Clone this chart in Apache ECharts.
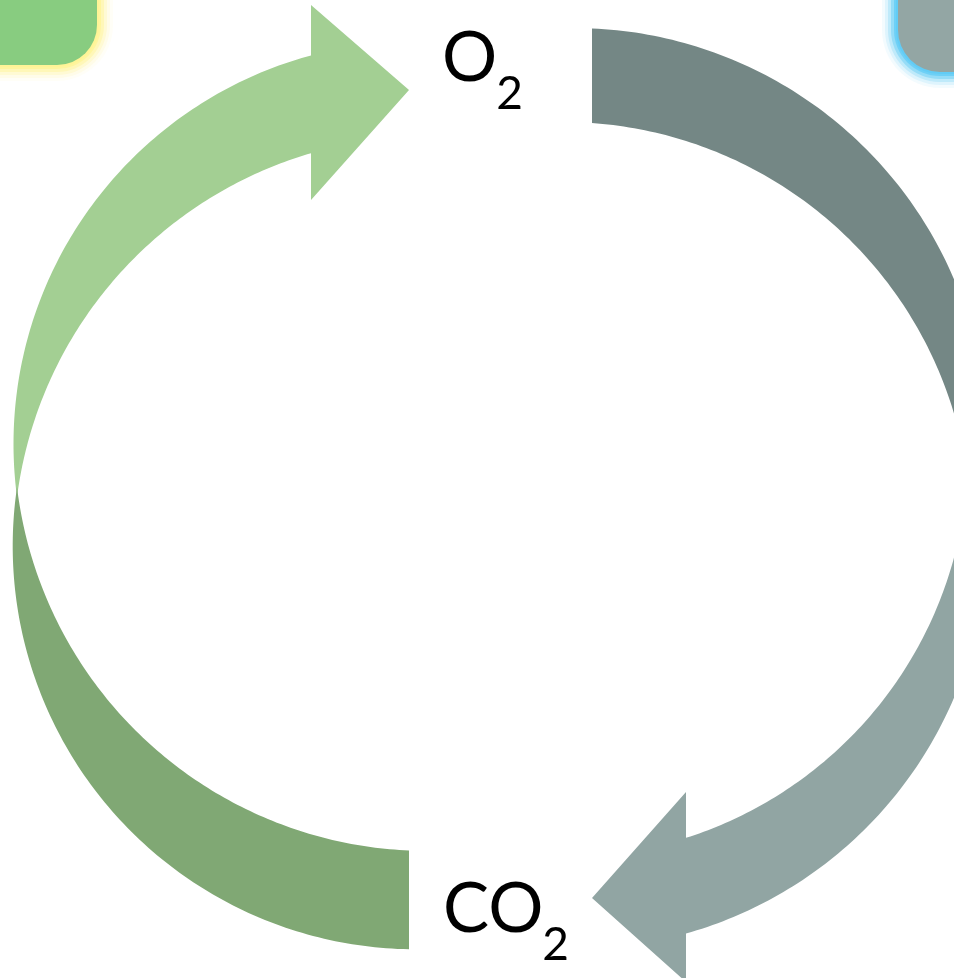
<!DOCTYPE html>
<html>
<head>
<meta charset="utf-8">
<script src="https://cdn.jsdelivr.net/npm/echarts@6/dist/echarts.min.js"></script>
<style>
html,body{margin:0;padding:0;background:#ffffff;}
#chart{width:954px;height:978px;}
</style>
</head>
<body>
<div id="chart"></div>
<script>
// ---- diagram data (pixel-unit value axes) ----
const pieceNames = ['O2 release (left, upper)', 'CO2 uptake (left, lower)', 'O2 uptake (right, upper)', 'CO2 release (right, lower)'];
// outer / inner edge circles: [centerX, centerY, radius]
const outerCircles = [[416, 444, 402.5], [416, 546, 403.3], [574, 441, 413], [574, 536, 413]];
const innerCircles = [[427, 550, 413.4], [427, 438, 412.9], [563, 530, 408], [563, 452, 405]];
// x where each band ends (flat end or arrow-head base)
const endX = [311, 409, 592, 686];
// which side the band tapers on (-1 left, +1 right) and whether the end is on top (-1) or bottom (+1)
const taperSide = [-1, -1, 1, 1];
const endSide = [-1, 1, -1, 1];
// arrow heads: [outer-side Y of base, tipX, tipY, inner-side Y of base] or null
const heads = [[5, 409, 90, 200], null, null, [982, 592, 898, 792]];
// labels
const labelMain = ['O', 'CO'];
const labelSub = ['2', '2'];

const palette = ['#A3CF93', '#80A874', '#748785', '#91A5A3'];

function intersect(c1, c2, side) {
  const dx = c2[0] - c1[0], dy = c2[1] - c1[1];
  const d = Math.sqrt(dx * dx + dy * dy);
  const a = (c1[2] * c1[2] - c2[2] * c2[2] + d * d) / (2 * d);
  const h = Math.sqrt(Math.max(0, c1[2] * c1[2] - a * a));
  const ux = dx / d, uy = dy / d;
  const mx = c1[0] + a * ux, my = c1[1] + a * uy;
  const p1 = [mx - h * uy, my + h * ux];
  const p2 = [mx + h * uy, my - h * ux];
  if (side < 0) return p1[0] < p2[0] ? p1 : p2;
  return p1[0] > p2[0] ? p1 : p2;
}
function pointAtX(c, x, s) {
  return [x, c[1] + s * Math.sqrt(Math.max(0, c[2] * c[2] - (x - c[0]) * (x - c[0])))];
}
function arc(c, p0, p1, n) {
  let a0 = Math.atan2(p0[1] - c[1], p0[0] - c[0]);
  let a1 = Math.atan2(p1[1] - c[1], p1[0] - c[0]);
  let diff = a1 - a0;
  while (diff > Math.PI) diff -= 2 * Math.PI;
  while (diff < -Math.PI) diff += 2 * Math.PI;
  const pts = [];
  for (let i = 0; i <= n; i++) {
    const a = a0 + diff * i / n;
    pts.push([c[0] + c[2] * Math.cos(a), c[1] + c[2] * Math.sin(a)]);
  }
  return pts;
}

// soft glow built from layered rounded rects
function glowRects(x, y, w, h, r, rgb) {
  const out = [];
  const steps = [[16, 0.08], [13, 0.14], [10, 0.25], [7, 0.45], [4, 0.75], [2, 1]];
  steps.forEach(function (s, k) {
    const e = s[0];
    out.push({type: 'rect', z: 1 + k * 0.01, shape: {x: x - e, y: y - e, width: w + 2 * e, height: h + 2 * e, r: r + e},
      style: {fill: 'rgba(' + rgb + ',' + s[1] + ')'}});
  });
  return out;
}

const chart = echarts.init(document.getElementById('chart'), null, {renderer: 'canvas'});

const option = {
  backgroundColor: '#ffffff',
  animation: false,
  grid: {left: 0, right: 0, top: 0, bottom: 0},
  xAxis: {type: 'value', min: 0, max: 954, show: false},
  yAxis: {type: 'value', min: 0, max: 978, inverse: true, show: false},
  graphic: [].concat(
    glowRects(-40, -40, 137, 105, 40, '255,244,150'),
    [{type: 'rect', z: 2, shape: {x: -40, y: -40, width: 137, height: 105, r: 40}, style: {fill: '#88CC80'}}],
    glowRects(898, -40, 120, 112, 42, '98,204,245'),
    [{type: 'rect', z: 2, shape: {x: 898, y: -40, width: 120, height: 112, r: 42}, style: {fill: '#93A6A4'}}]
  ),
  series: [{
    type: 'custom',
    coordinateSystem: 'cartesian2d',
    clip: false,
    silent: true,
    data: pieceNames.map((n, i) => ({name: n, value: [i]})),
    renderItem: function (params, api) {
      const i = api.value(0);
      const oc = outerCircles[i], ic = innerCircles[i];
      const p = intersect(oc, ic, taperSide[i]);
      const oe = pointAtX(oc, endX[i], endSide[i]);
      const ie = pointAtX(ic, endX[i], endSide[i]);
      let pts = arc(oc, p, oe, 120);
      const hd = heads[i];
      if (hd) {
        pts.push([endX[i], hd[0]]);
        pts.push([hd[1], hd[2]]);
        pts.push([endX[i], hd[3]]);
      }
      pts = pts.concat(arc(ic, ie, p, 120));
      return {
        type: 'polygon',
        shape: {points: pts.map(q => api.coord(q))},
        style: {fill: palette[i]}
      };
    }
  }, {
    type: 'custom',
    coordinateSystem: 'cartesian2d',
    clip: false,
    silent: true,
    data: labelMain.map((t, i) => ({name: t, value: [i]})),
    renderItem: function (params, api) {
      const i = api.value(0);
      const anchor = i === 0 ? api.coord([442, 59]) : api.coord([443, 910]);
      const main = labelMain[i], sub = labelSub[i];
      const mainFont = '69px Lato';
      const w = echarts.format.getTextRect ? echarts.format.getTextRect(main, mainFont).width : main.length * 48;
      return {
        type: 'group',
        children: [
          {type: 'text', style: {text: main, x: anchor[0], y: anchor[1], font: mainFont, fill: '#000000', textAlign: 'left', textVerticalAlign: 'middle'}},
          {type: 'text', style: {text: sub, x: anchor[0] + w - 1, y: anchor[1] + 35, font: '46px Lato', fill: '#000000', textAlign: 'left', textVerticalAlign: 'middle'}}
        ]
      };
    }
  }]
};
chart.setOption(option);
</script>
</body>
</html>
